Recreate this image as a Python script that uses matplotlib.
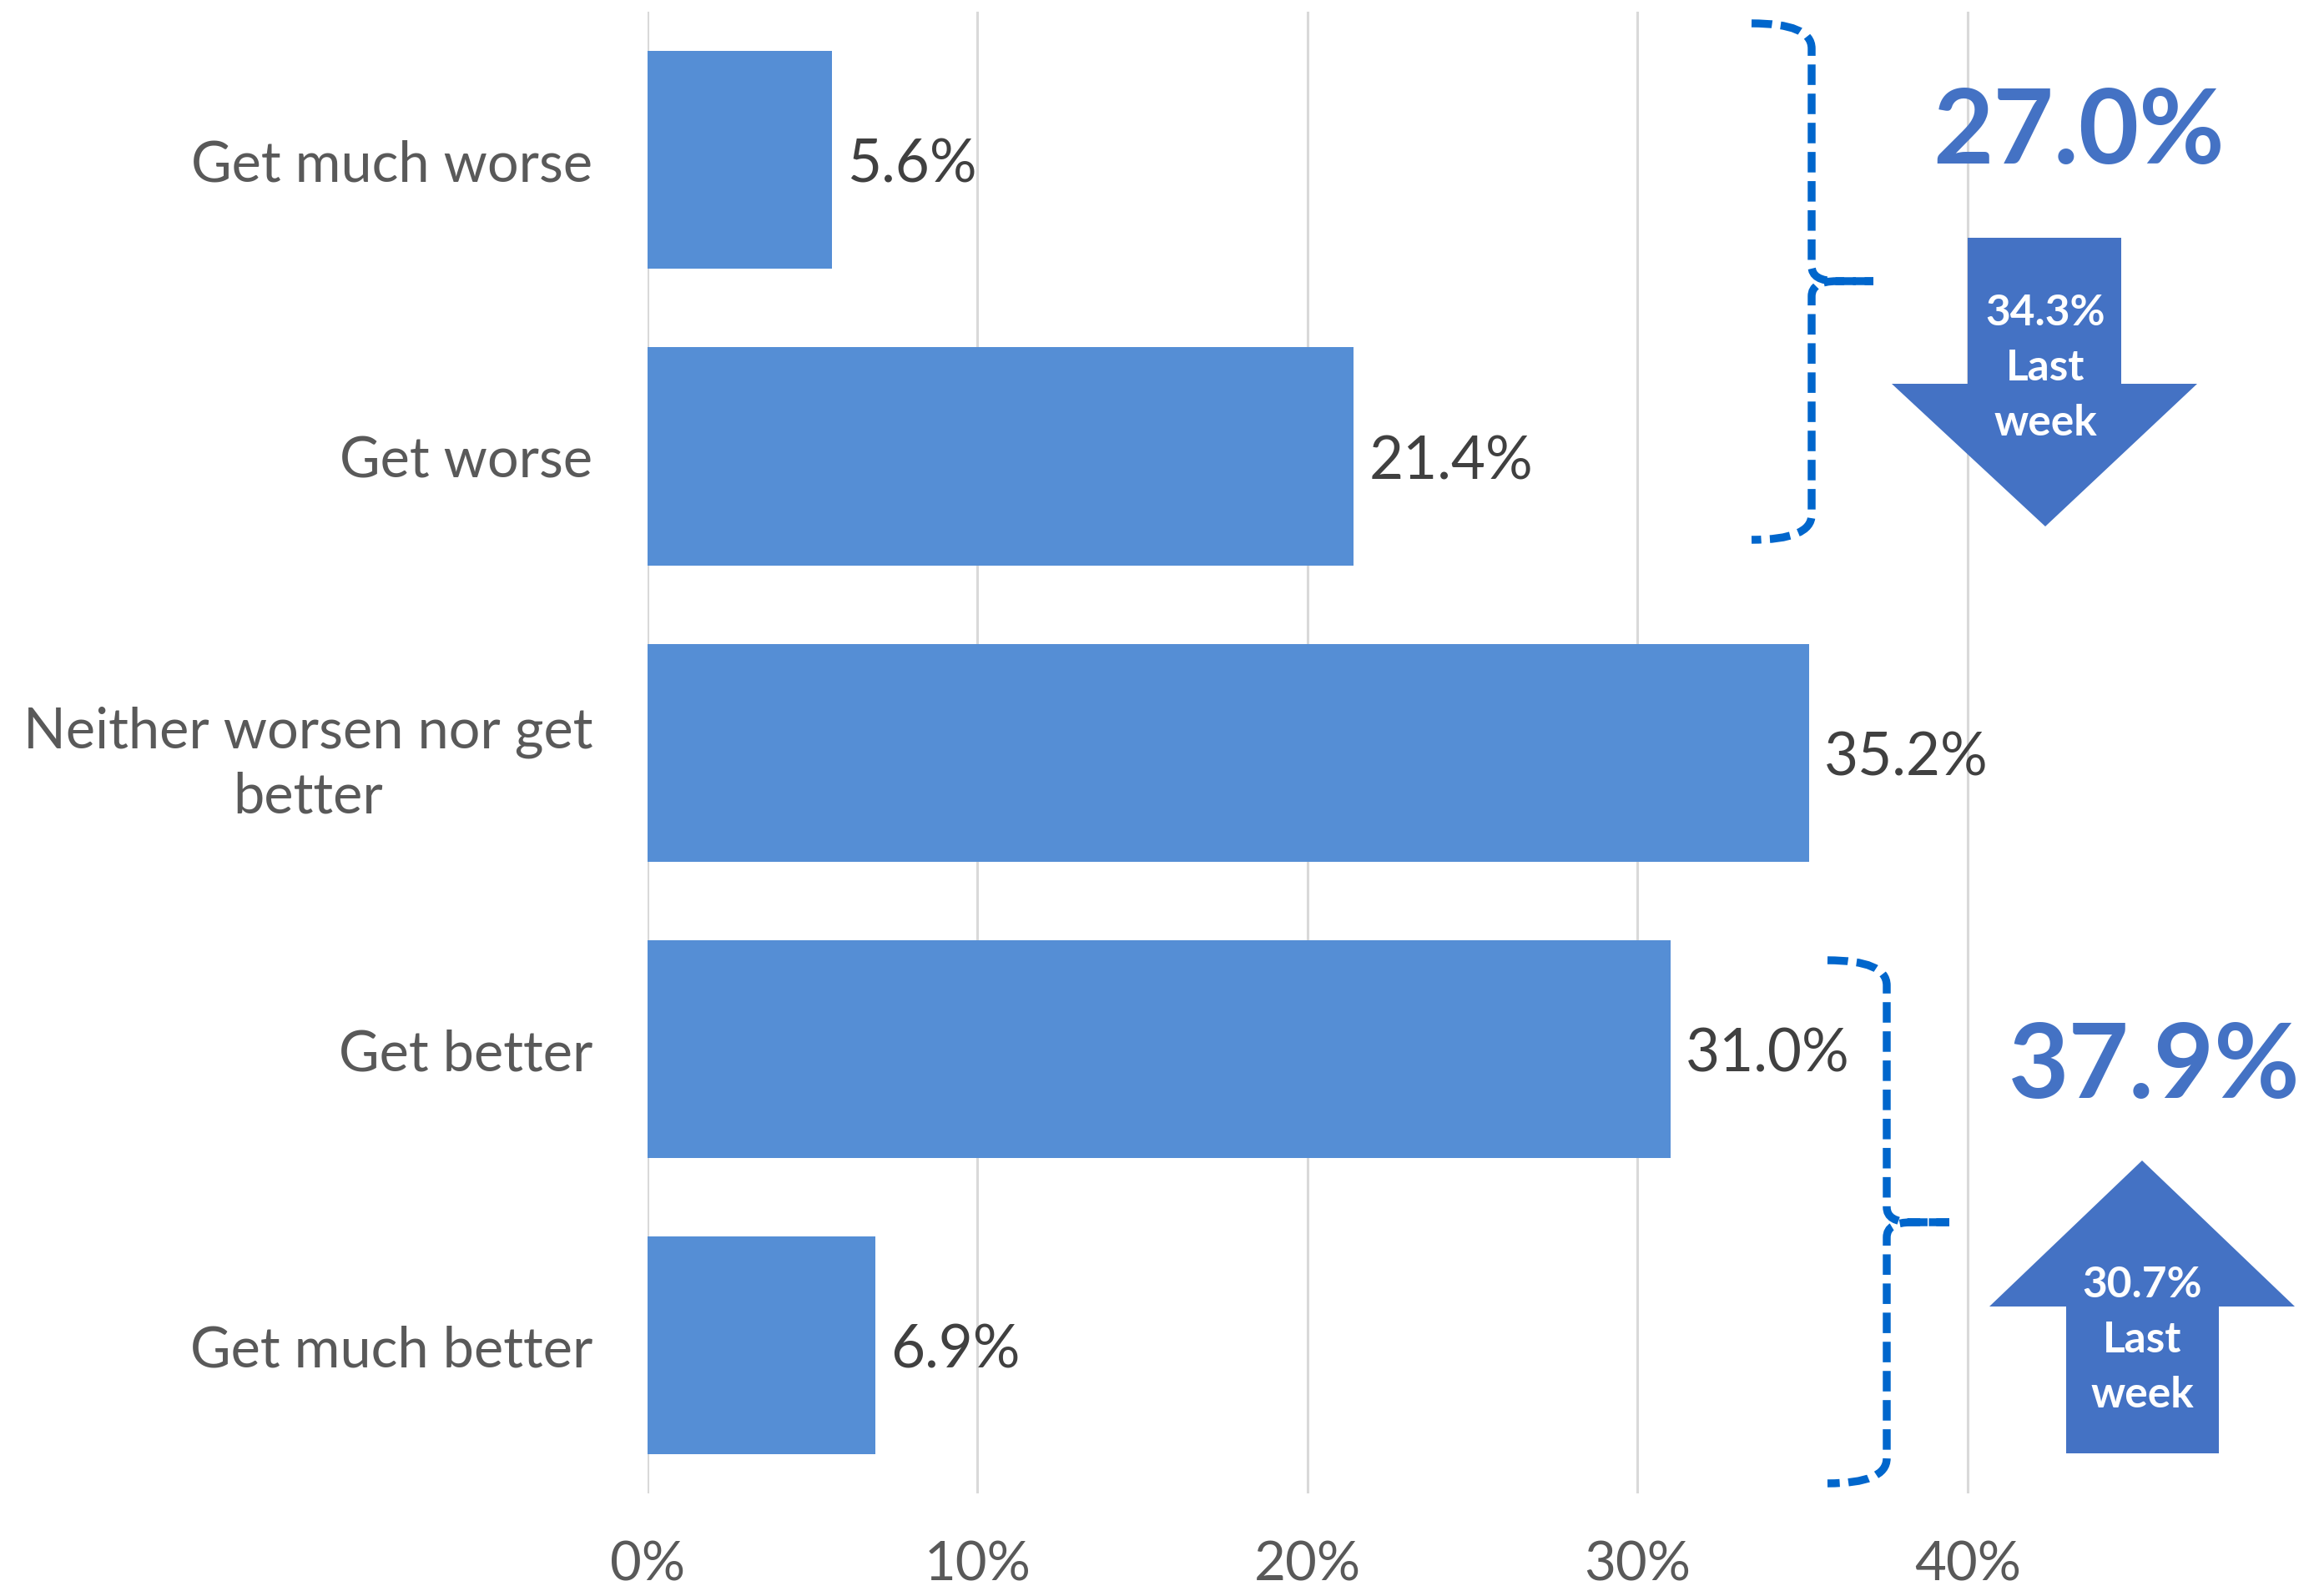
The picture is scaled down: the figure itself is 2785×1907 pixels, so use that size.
import matplotlib
matplotlib.use("Agg")
import matplotlib.pyplot as plt
from matplotlib.transforms import Affine2D
from matplotlib.path import Path
from matplotlib.patches import PathPatch, Polygon

# ---- data ----
categories = ["Get much worse", "Get worse", "Neither worsen nor get\nbetter",
              "Get better", "Get much better"]
values = [0.056, 0.214, 0.352, 0.310, 0.069]
tick_values = [0.0, 0.1, 0.2, 0.3, 0.4]
tick_labels = ["0%", "10%", "20%", "30%", "40%"]
worse_last_week = 0.343
better_last_week = 0.307

worse_total = values[0] + values[1]
better_total = values[3] + values[4]

FONT = ["Lato", "DejaVu Sans"]
plt.rcParams['font.family'] = FONT

W, H = 2785, 1908
fig = plt.figure(figsize=(W / 100, H / 100), dpi=100)
ax = fig.add_axes([0.2786, 0.0613, 0.9887 - 0.2786, 0.992 - 0.0613])

bar_color = "#558ED5"
accent = "#4472C4"
bracket_color = "#0066CC"

y = list(range(len(categories)))
ax.barh(y, values, height=0.735, color=bar_color, zorder=2)
ax.set_ylim(len(categories) - 0.5, -0.5)
ax.set_xlim(0, 0.5)
ax.set_xticks(tick_values)
ax.set_xticklabels(tick_labels)
ax.set_yticks(y)
ax.set_yticklabels(categories, multialignment="center", linespacing=1.3)
ax.grid(axis="x", color="#D9D9D9", linewidth=2.2, zorder=0)
for s in ax.spines.values():
    s.set_visible(False)
ax.tick_params(axis="x", length=0, pad=40, labelsize=47, labelcolor="#595959")
ax.tick_params(axis="y", length=0, pad=47, labelsize=48, labelcolor="#595959")
# nudge the two-line label up slightly so it centres on its bar like single-line ones
for lab in ax.get_yticklabels():
    if "\n" in lab.get_text():
        lab.set_verticalalignment("center_baseline")

for i, v in enumerate(values):
    ax.annotate(f"{v*100:.1f}%", (v, i), xytext=(13, -4), textcoords="offset points",
                va="center", ha="left", fontsize=51, color="#404040")

# pixel-space transform for annotations
pix = Affine2D().scale(1 / W, -1 / H).translate(0, 1) + fig.transFigure


def bracket(xv, xl, xt, yt, yb, ym, r=30):
    verts = [(xl, yt), (xv, yt), (xv, yt + r), (xv, ym - 18), (xv, ym), (xv + 30, ym), (xt, ym)]
    codes = [Path.MOVETO, Path.CURVE3, Path.CURVE3, Path.LINETO, Path.CURVE3, Path.CURVE3, Path.LINETO]
    verts2 = [(xt, ym), (xv + 30, ym), (xv, ym), (xv, ym + 18), (xv, yb - r), (xv, yb), (xl, yb)]
    codes2 = [Path.MOVETO, Path.LINETO, Path.CURVE3, Path.CURVE3, Path.LINETO, Path.CURVE3, Path.CURVE3]
    for vv, cc in ((verts, codes), (verts2, codes2)):
        p = PathPatch(Path(vv, cc), transform=pix, fill=False, edgecolor=bracket_color,
                      linewidth=6.8, linestyle=(0, (2.6, 1.1)), capstyle="butt")
        p.set_clip_on(False)
        fig.add_artist(p)


bracket(2171, 2099, 2245, 29, 648, 338)
bracket(2261, 2190, 2336, 1152, 1779, 1466)

# arrows
down = Polygon([(2358, 286), (2542, 286), (2542, 461), (2633, 461), (2451, 632),
                (2267, 461), (2358, 461)], closed=True, transform=pix, facecolor=accent,
               edgecolor="none")
up = Polygon([(2476, 1743), (2659, 1743), (2659, 1567), (2750, 1567), (2567, 1392),
              (2384, 1567), (2476, 1567)], closed=True, transform=pix, facecolor=accent,
             edgecolor="none")
fig.add_artist(down)
fig.add_artist(up)

fig.text(2491, 160, f"{worse_total*100:.1f}%", transform=pix, ha="center", va="center",
         fontsize=90, fontweight="bold", color=accent)
fig.text(2582, 1280, f"{better_total*100:.1f}%", transform=pix, ha="center", va="center",
         fontsize=90, fontweight="bold", color=accent)
fig.text(2451, 441, f"{worse_last_week*100:.1f}%\nLast\nweek", transform=pix, ha="center",
         va="center", fontsize=37, fontweight="bold", color="white", linespacing=1.5)
fig.text(2567, 1607, f"{better_last_week*100:.1f}%\nLast\nweek", transform=pix, ha="center",
         va="center", fontsize=37, fontweight="bold", color="white", linespacing=1.5)

fig.savefig("out.png", dpi=100, facecolor="white")
